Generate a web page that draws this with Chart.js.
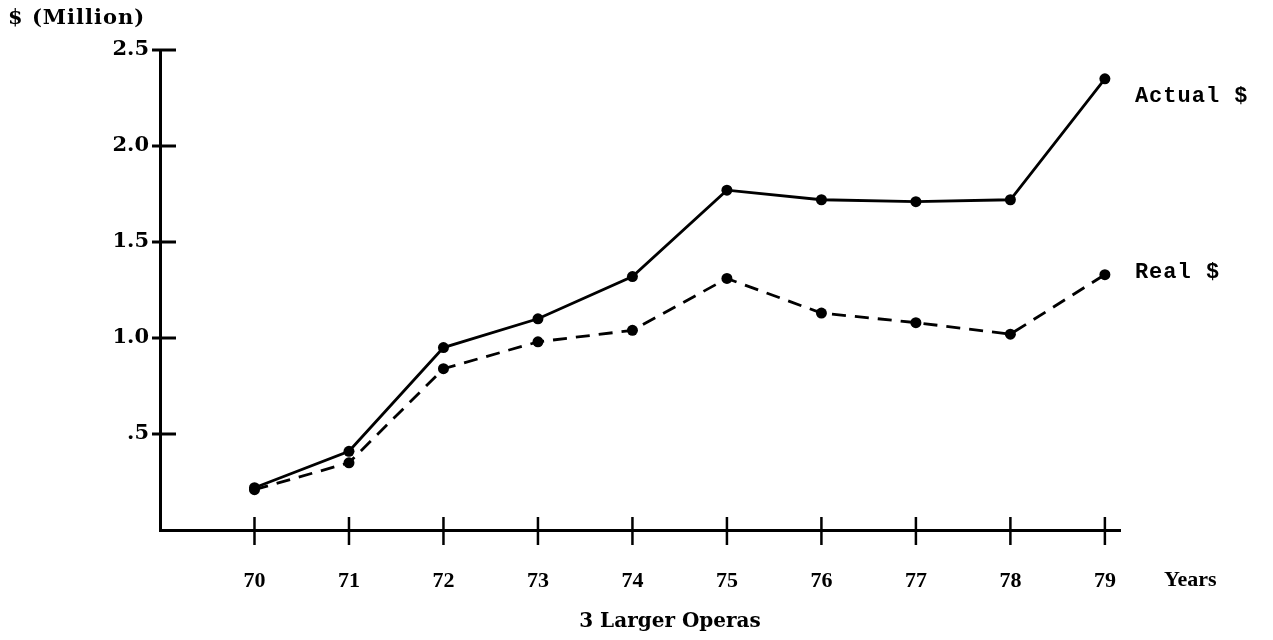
<!DOCTYPE html>
<html>
<head>
<meta charset="utf-8">
<script src="https://cdn.jsdelivr.net/npm/chart.js@4/dist/chart.umd.min.js"></script>
<style>
  html, body { margin: 0; padding: 0; background: #fff; }
  #wrap { width: 1273px; height: 640px; position: relative; }
</style>
</head>
<body>
<div id="wrap"><canvas id="chart"></canvas></div>
<script>
// data
const years = [70, 71, 72, 73, 74, 75, 76, 77, 78, 79];
const actualDollars = [0.22, 0.41, 0.95, 1.10, 1.32, 1.77, 1.72, 1.71, 1.72, 2.35];
const realDollars = [0.21, 0.35, 0.84, 0.98, 1.04, 1.31, 1.13, 1.08, 1.02, 1.33];
const yTicks = [0.5, 1.0, 1.5, 2.0, 2.5];

const serif = "'Liberation Serif', 'DejaVu Serif', serif";
const wideSerif = "'DejaVu Serif', 'Liberation Serif', serif";
const mono = "'Liberation Mono', 'DejaVu Sans Mono', monospace";

function toPoints(vals) {
    return years.map((y, i) => ({ x: y, y: vals[i] }));
}

// tick marks crossing the axes + free text labels
const decorations = {
    id: "decorations",
    afterDraw(chart) {
        const ctx = chart.ctx;
        const xs = chart.scales.x;
        const ys = chart.scales.y;
        const area = chart.chartArea;

        ctx.save();
        ctx.strokeStyle = "#000";
        ctx.lineWidth = 3;
        yTicks.forEach(v => {
            const py = ys.getPixelForValue(v);
            ctx.beginPath();
            ctx.moveTo(area.left - 8, py);
            ctx.lineTo(area.left + 16, py);
            ctx.stroke();
        });
        ctx.lineWidth = 2.5;
        years.forEach(v => {
            const px = xs.getPixelForValue(v);
            ctx.beginPath();
            ctx.moveTo(px, area.bottom - 13);
            ctx.lineTo(px, area.bottom + 15);
            ctx.stroke();
        });

        ctx.fillStyle = "#000";
        ctx.textBaseline = "middle";
        ctx.textAlign = "left";
        ctx.font = "bold 21px " + wideSerif;
        ctx.letterSpacing = "1px";
        ctx.fillText("$ (Million)", 8, 19);
        ctx.letterSpacing = "0px";

        ctx.font = "bold 22px " + serif;
        ctx.fillText("Years", 1164, 580);

        ctx.textAlign = "center";
        ctx.font = "bold 20px " + wideSerif;
        ctx.fillText("3 Larger Operas", 670, 622);

        ctx.textAlign = "left";
        ctx.font = "bold 22px " + mono;
        ctx.letterSpacing = "1px";
        const lx = xs.getPixelForValue(79) + 30;
        ctx.fillText("Actual $", lx, ys.getPixelForValue(actualDollars[9]) + 18);
        ctx.fillText("Real $", lx, ys.getPixelForValue(realDollars[9]) - 2);
        ctx.restore();
    }
};

new Chart(document.getElementById("chart"), {
    type: "line",
    data: {
        datasets: [
            {
                label: "Actual $",
                data: toPoints(actualDollars),
                borderColor: "#000",
                backgroundColor: "#000",
                borderWidth: 2.8,
                pointRadius: 5.5,
                pointBackgroundColor: "#000",
                pointBorderWidth: 0,
                tension: 0
            },
            {
                label: "Real $",
                data: toPoints(realDollars),
                borderColor: "#000",
                backgroundColor: "#000",
                borderWidth: 2.8,
                borderDash: [14, 9],
                pointRadius: 5.5,
                pointBackgroundColor: "#000",
                pointBorderWidth: 0,
                tension: 0
            }
        ]
    },
    options: {
        responsive: true,
        maintainAspectRatio: false,
        animation: false,
        layout: { padding: { top: 50, right: 153, left: 0, bottom: 0 } },
        plugins: {
            legend: { display: false },
            tooltip: { enabled: false }
        },
        scales: {
            x: {
                type: "linear",
                min: 69,
                max: 79.16,
                afterBuildTicks: s => { s.ticks = years.map(v => ({ value: v })); },
                afterFit: s => { s.height = 110; },
                grid: { display: false, drawTicks: false },
                border: { display: true, color: "#000", width: 3 },
                ticks: {
                    color: "#000",
                    padding: 38,
                    maxRotation: 0,
                    font: { family: serif, size: 22, weight: "bold" }
                }
            },
            y: {
                min: 0,
                max: 2.5,
                afterBuildTicks: s => { s.ticks = yTicks.map(v => ({ value: v })); },
                afterFit: s => { s.width = 160; },
                grid: { display: false, drawTicks: false },
                border: { display: true, color: "#000", width: 3 },
                ticks: {
                    color: "#000",
                    padding: 11,
                    font: { family: wideSerif, size: 21, weight: "bold" },
                    callback: v => v < 1 ? ".5" : v.toFixed(1)
                }
            }
        }
    },
    plugins: [decorations]
});
</script>
</body>
</html>
